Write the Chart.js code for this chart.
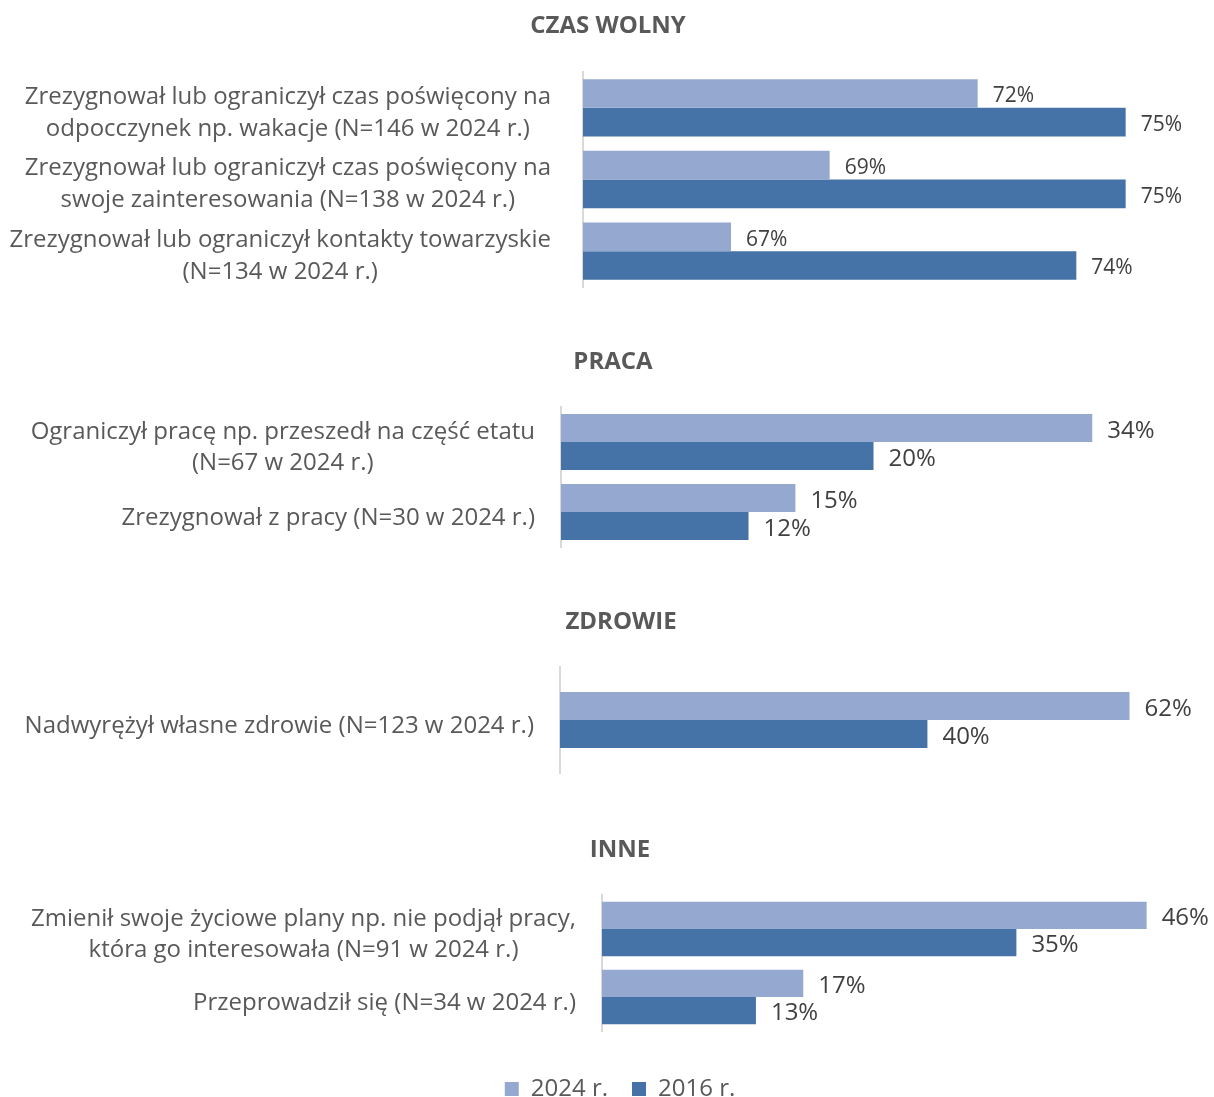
<!DOCTYPE html>
<html>
<head>
<meta charset="utf-8">
<script src="https://cdn.jsdelivr.net/npm/chart.js@4.4.0/dist/chart.umd.min.js"></script>
<style>
  body { margin: 0; background: #fff; overflow: hidden; }
  #wrap { position: relative; width: 1214px; height: 1097px; overflow: hidden; }
  canvas { position: absolute; left: 0; }
</style>
</head>
<body>
<div id="wrap">
  <canvas id="czas" width="1214" height="300" style="top:0px"></canvas>
  <canvas id="praca" width="1214" height="240" style="top:320px"></canvas>
  <canvas id="zdrowie" width="1214" height="200" style="top:580px"></canvas>
  <canvas id="inne" width="1214" height="303" style="top:808px"></canvas>
</div>
<script>
const seriesNames = ['2024 r.', '2016 r.'];

const czasLabels = [
  ['Zrezygnował lub ograniczył czas poświęcony na', 'odpocczynek np. wakacje (N=146 w 2024 r.)'],
  ['Zrezygnował lub ograniczył czas poświęcony na', 'swoje zainteresowania (N=138 w 2024 r.)'],
  ['Zrezygnował lub ograniczył kontakty towarzyskie', '(N=134 w 2024 r.)']
];
const czas2024 = [72, 69, 67];
const czas2016 = [75, 75, 74];

const pracaLabels = [
  ['Ograniczył pracę np. przeszedł na część etatu', '(N=67 w 2024 r.)'],
  ['Zrezygnował z pracy (N=30 w 2024 r.)']
];
const praca2024 = [34, 15];
const praca2016 = [20, 12];

const zdrowieLabels = [
  ['Nadwyrężył własne zdrowie (N=123 w 2024 r.)']
];
const zdrowie2024 = [62];
const zdrowie2016 = [40];

const inneLabels = [
  ['Zmienił swoje życiowe plany np. nie podjął pracy,', 'która go interesowała (N=91 w 2024 r.)'],
  ['Przeprowadził się (N=34 w 2024 r.)']
];
const inne2024 = [46, 17];
const inne2016 = [35, 13];

const LIGHT = '#95a9d0';
const DARK = '#4573a7';
const FONT = '"Open Sans", sans-serif';

// category labels: block right-aligned to the axis, lines centred inside the block
const catLabels = {
  id: 'catLabels',
  afterDraw(chart, args, opts) {
    const ctx = chart.ctx;
    const scale = chart.scales.y;
    ctx.save();
    ctx.font = opts.size + 'px ' + FONT;
    ctx.fillStyle = '#595959';
    ctx.textAlign = 'center';
    ctx.textBaseline = 'middle';
    chart.data.labels.forEach((lines, i) => {
      const y = scale.getPixelForTick(i);
      const w = Math.max(...lines.map(t => ctx.measureText(t).width));
      const cx = scale.right - opts.gap - w / 2;
      lines.forEach((t, k) => {
        ctx.fillText(t, cx, y + (k - (lines.length - 1) / 2) * opts.lineH + opts.dy);
      });
    });
    ctx.restore();
  }
};

// value labels at the end of each bar
const valueLabels = {
  id: 'valueLabels',
  afterDatasetsDraw(chart, args, opts) {
    const ctx = chart.ctx;
    ctx.save();
    ctx.font = opts.size + 'px ' + FONT;
    ctx.fillStyle = '#404040';
    ctx.textAlign = 'left';
    ctx.textBaseline = 'middle';
    chart.data.datasets.forEach((ds, d) => {
      chart.getDatasetMeta(d).data.forEach((bar, i) => {
        ctx.fillText(ds.data[i] + '%', bar.x + opts.gap, bar.y + 3);
      });
    });
    ctx.restore();
  }
};

function makePanel(id, cfg) {
  return new Chart(document.getElementById(id), {
    type: 'bar',
    data: {
      labels: cfg.labels,
      datasets: [
        { label: seriesNames[0], data: cfg.a, backgroundColor: LIGHT, barPercentage: 1, categoryPercentage: cfg.cat },
        { label: seriesNames[1], data: cfg.b, backgroundColor: DARK, barPercentage: 1, categoryPercentage: cfg.cat }
      ]
    },
    options: {
      indexAxis: 'y',
      responsive: false,
      animation: false,
      layout: { padding: { left: cfg.padL, right: cfg.padR, top: 0, bottom: cfg.padB } },
      plugins: {
        title: {
          display: true,
          text: cfg.title,
          color: '#595959',
          font: { family: FONT, size: 24, weight: 'bold', lineHeight: 1.2 },
          padding: { top: cfg.titleTop, bottom: cfg.titleBottom }
        },
        legend: {
          display: !!cfg.legend,
          position: 'bottom',
          labels: {
            color: '#595959',
            font: { family: FONT, size: 24 },
            boxWidth: 14,
            boxHeight: 14,
            padding: 24
          }
        },
        tooltip: { enabled: false },
        catLabels: { size: 24, gap: cfg.labelGap, lineH: cfg.lineH, dy: cfg.dy },
        valueLabels: { size: cfg.valueSize, gap: 15 }
      },
      scales: {
        x: {
          min: cfg.min,
          max: cfg.max,
          display: !!cfg.legend,
          ticks: { display: false },
          grid: { display: false },
          border: { display: false },
          afterFit: s => { s.height = cfg.spacer || 0; }
        },
        y: {
          ticks: { display: false },
          grid: { display: false, drawTicks: false },
          border: { display: true, color: '#d9d9d9', width: 2 },
          afterFit: s => { s.width = cfg.axisX - cfg.padL; }
        }
      }
    },
    plugins: [catLabels, valueLabels]
  });
}

makePanel('czas', {
  title: 'CZAS WOLNY', labels: czasLabels, a: czas2024, b: czas2016,
  min: 64, max: 76, cat: 0.8, axisX: 583, padL: 41, padR: 39, padB: 13,
  titleTop: 11.6, titleBottom: 31.6, labelGap: 32, valueSize: 21, lineH: 32, dy: 5
});

makePanel('praca', {
  title: 'PRACA', labels: pracaLabels, a: praca2024, b: praca2016,
  min: 0, max: 40, cat: 0.8, axisX: 561, padL: 40, padR: 28, padB: 13,
  titleTop: 27.6, titleBottom: 30.6, labelGap: 26, valueSize: 24, lineH: 31, dy: 6
});

makePanel('zdrowie', {
  title: 'ZDROWIE', labels: zdrowieLabels, a: zdrowie2024, b: zdrowie2016,
  min: 0, max: 70, cat: 0.53, axisX: 560, padL: 39, padR: 11, padB: 7,
  titleTop: 27.6, titleBottom: 30.6, labelGap: 26, valueSize: 24, lineH: 31, dy: 6
});

makePanel('inne', {
  title: 'INNE', labels: inneLabels, a: inne2024, b: inne2016,
  min: 0, max: 50, cat: 0.8, axisX: 602, padL: 46, padR: 20, padB: 0,
  titleTop: 27.6, titleBottom: 30.6, labelGap: 26, valueSize: 24, lineH: 31, dy: 6,
  legend: true, spacer: 22
});
</script>
</body>
</html>
